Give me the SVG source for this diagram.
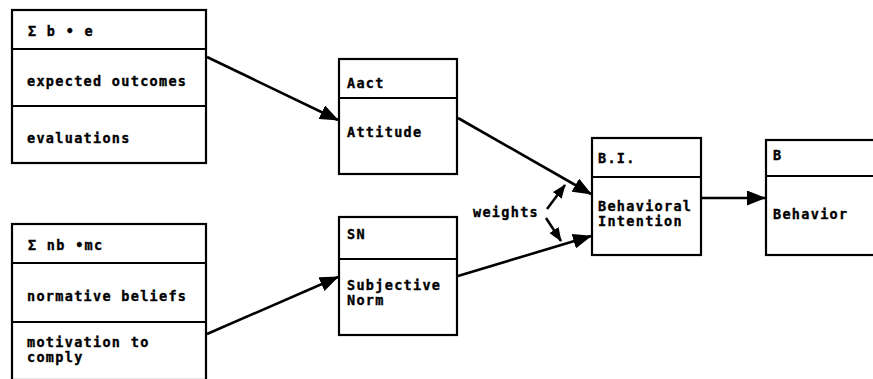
<svg xmlns="http://www.w3.org/2000/svg" width="873" height="379" viewBox="0 0 873 379">
  <style>
    .box { fill: #fff; stroke: #000; stroke-width: 2.2; }
    .div { stroke: #000; stroke-width: 2; }
    .t { font-family: "DejaVu Sans Mono", "Liberation Mono", monospace; font-weight: bold; font-size: 13.5px; letter-spacing: 1.3px; fill: #000; stroke: #000; stroke-width: 0.35; }
    .edge { fill: none; stroke: #000; stroke-width: 2.6; }
    .small { fill: none; stroke: #000; stroke-width: 2.5; }
  </style>
  <defs>
    <marker id="head" markerUnits="userSpaceOnUse" markerWidth="19" markerHeight="15" refX="18" refY="7.5" orient="auto">
      <path d="M0,0 L19,7.5 L0,15 Z" fill="#000"/>
    </marker>
    <marker id="headSmall" markerUnits="userSpaceOnUse" markerWidth="14" markerHeight="11" refX="13" refY="5.5" orient="auto">
      <path d="M0,0 L14,5.5 L0,11 Z" fill="#000"/>
    </marker>
  </defs>

  <rect width="873" height="379" fill="#fff"/>

  <!-- beliefs × evaluations -->
  <g id="be">
    <rect class="box" x="12" y="10" width="194" height="153"/>
    <line class="div" x1="12" y1="49" x2="206" y2="49"/>
    <line class="div" x1="12" y1="106" x2="206" y2="106"/>
    <text class="t" x="28" y="36">Σ b • e</text>
    <text class="t" x="27" y="86">expected outcomes</text>
    <text class="t" x="27" y="143">evaluations</text>
  </g>

  <!-- normative beliefs × motivation -->
  <g id="nbmc">
    <rect class="box" x="12" y="224" width="194" height="156"/>
    <line class="div" x1="12" y1="263" x2="206" y2="263"/>
    <line class="div" x1="12" y1="322" x2="206" y2="322"/>
    <text class="t" x="28" y="250">Σ nb •mc</text>
    <text class="t" x="27" y="301">normative beliefs</text>
    <text class="t" x="27" y="347">motivation to</text>
    <text class="t" x="27" y="362">comply</text>
  </g>

  <!-- attitude -->
  <g id="aact">
    <rect class="box" x="339" y="59" width="118" height="115"/>
    <line class="div" x1="339" y1="98" x2="457" y2="98"/>
    <text class="t" x="347" y="88">Aact</text>
    <text class="t" x="347" y="137">Attitude</text>
  </g>

  <!-- subjective norm -->
  <g id="sn">
    <rect class="box" x="339" y="217" width="118" height="118"/>
    <line class="div" x1="339" y1="259" x2="457" y2="259"/>
    <text class="t" x="347" y="239">SN</text>
    <text class="t" x="347" y="290">Subjective</text>
    <text class="t" x="347" y="305">Norm</text>
  </g>

  <!-- behavioral intention -->
  <g id="bi">
    <rect class="box" x="592" y="138" width="109" height="117"/>
    <line class="div" x1="592" y1="177" x2="701" y2="177"/>
    <text class="t" x="598" y="163">B.I.</text>
    <text class="t" x="598" y="211">Behavioral</text>
    <text class="t" x="598" y="226">Intention</text>
  </g>

  <!-- behavior -->
  <g id="b">
    <rect class="box" x="766" y="140" width="115" height="115"/>
    <line class="div" x1="766" y1="176" x2="881" y2="176"/>
    <text class="t" x="773" y="160">B</text>
    <text class="t" x="773" y="219">Behavior</text>
  </g>

  <!-- weights label -->
  <g id="weights">
    <text class="t" x="473" y="217">weights</text>
  </g>

  <g id="connectors">
    <line class="edge" x1="207" y1="57" x2="338" y2="120" marker-end="url(#head)"/>
    <line class="edge" x1="207" y1="334" x2="338" y2="277" marker-end="url(#head)"/>
    <line class="edge" x1="458" y1="118" x2="591" y2="194" marker-end="url(#head)"/>
    <line class="edge" x1="458" y1="276" x2="591" y2="236" marker-end="url(#head)"/>
    <line class="edge" x1="701" y1="198" x2="765" y2="198" marker-end="url(#head)"/>
    <line class="small" x1="547" y1="209" x2="565" y2="185" marker-end="url(#headSmall)"/>
    <line class="small" x1="546" y1="218" x2="561" y2="241" marker-end="url(#headSmall)"/>
  </g>
</svg>
